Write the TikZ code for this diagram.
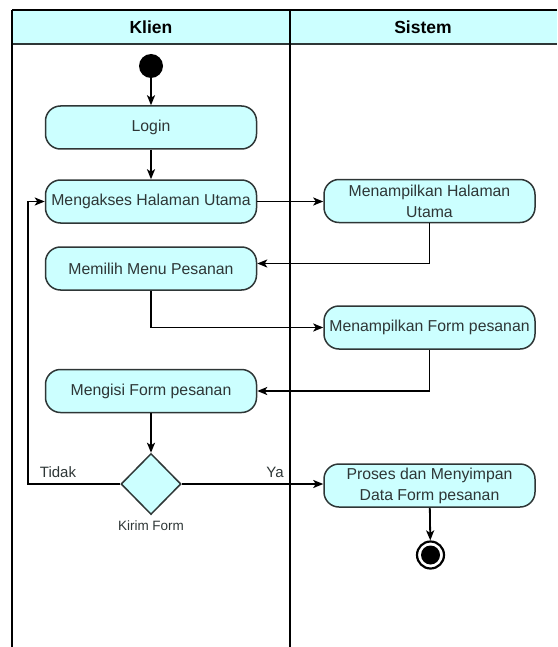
\documentclass[tikz,border=0pt]{standalone}
\usepackage{fontspec}
\setmainfont{Liberation Sans}
\usetikzlibrary{shapes.geometric,arrows.meta,calc}
\definecolor{cyanfill}{HTML}{CCFFFF}
\definecolor{edgegray}{HTML}{2E3636}
\begin{document}
\begin{tikzpicture}[x=1pt,y=-1pt,
  act/.style={draw=edgegray, line width=1.5pt, fill=cyanfill, rounded corners=15pt,
    minimum width=211pt, minimum height=43pt, inner sep=1pt, align=center,
    font=\fontsize{15.8}{21}\selectfont, text=edgegray},
  flow/.style={draw=black, line width=1.8pt, -{Stealth[length=10pt,width=8pt,inset=2.5pt]}},
  lbl/.style={font=\fontsize{15}{18}\selectfont, text=edgegray, inner sep=0pt},
  lanehead/.style={font=\bfseries\fontsize{17.5}{20}\selectfont, text=black},
  lane/.style={draw=black, line width=1.8pt},
  decision/.style={diamond, draw=edgegray, line width=1.5pt, fill=cyanfill,
    minimum width=60pt, minimum height=61pt, inner sep=0pt, aspect=1},
  startdot/.style={circle, fill=black, minimum size=24pt, inner sep=0pt},
  enddot/.style={circle, draw=black, line width=2.2pt, fill=white, minimum size=27pt, inner sep=0pt}
]
\useasboundingbox (0,0) rectangle (557,647);
% swimlanes
\fill[cyanfill] (12,10) rectangle (557,44);
\draw[lane] (12,10) -- (557,10);
\draw[draw=edgegray, line width=2pt] (12,44) -- (557,44);
\draw[lane] (12,10) -- (12,647);
\draw[lane] (290,10) -- (290,647);
\node[lanehead] (hklien) at (151,27) {Klien};
\node[lanehead] (hsistem) at (423,27) {Sistem};
% nodes
\node[startdot] (start) at (151,66) {};
\node[act] (login) at (151,127.5) {Login};
\node[act] (akses) at (151,201.5) {Mengakses Halaman Utama};
\node[act] (mhu) at (429.5,201) {Menampilkan Halaman\\Utama};
\node[act] (pilih) at (151,268.5) {Memilih Menu Pesanan};
\node[act] (mfp) at (429.5,327.5) {Menampilkan Form pesanan};
\node[act] (isi) at (151,391) {Mengisi Form pesanan};
\node[decision] (dia) at (151,484) {};
\node[act] (proses) at (429.5,485.5) {Proses dan Menyimpan\\Data Form pesanan};
\node[enddot] (end) at (430.5,555) {};
\fill[black] (end.center) circle (9.5pt);
% labels
\node[lbl] (ltidak) at (58,472) {Tidak};
\node[lbl] (lya) at (275,472) {Ya};
\node[lbl, font=\fontsize{13.5}{16}\selectfont] (lkirim) at (151,526) {Kirim Form};
% connectors
\coordinate (fb) at (28,484);
\draw[flow] (start) -- (login);
\draw[flow] (login) -- (akses);
\draw[flow] (akses.east) -- (akses.east -| mhu.west);
\draw[flow] (mhu.south) |- ([yshift=5pt]pilih.east);
\draw[flow] (pilih.south) |- (mfp.west);
\draw[flow] (mfp.south) |- (isi.east);
\draw[flow] (isi) -- (dia);
\draw[flow] (dia.east) -- (dia.east -| proses.west);
\draw[flow] (dia.west) -- (fb) |- (akses.west);
\draw[flow] (proses) -- (end);
\end{tikzpicture}
\end{document}
